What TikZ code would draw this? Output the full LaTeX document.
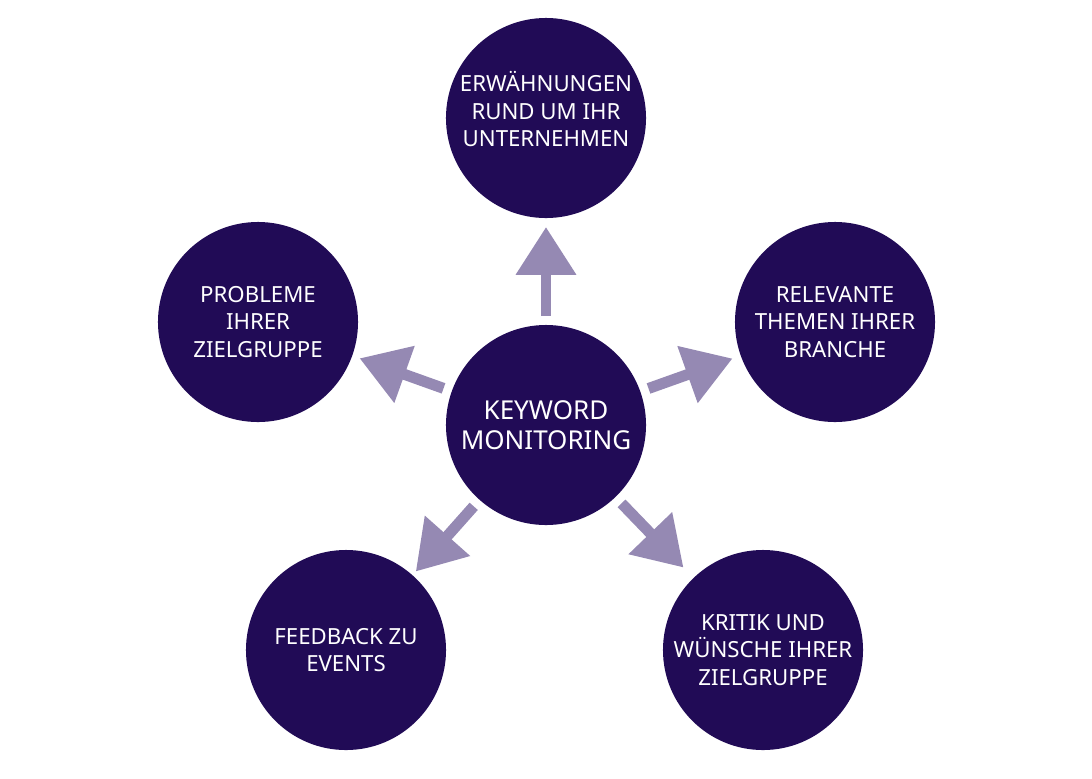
\documentclass[tikz,border=0pt]{standalone}
\usepackage{fontspec}
\setmainfont{Noto Sans}
\usetikzlibrary{arrows.meta, calc}
\definecolor{deeppurple}{RGB}{33,11,86}
\definecolor{palepurple}{RGB}{149,137,179}
\tikzstyle{bubble} = [circle, 
minimum size=5cm, 
inner sep=0pt,
fill=deeppurple, 
text=white, 
align=center,
font=\fontsize{15.8}{19.5}\selectfont]
\tikzstyle{hub} = [bubble, 
font=\fontsize{18.5}{21.5}\selectfont]
\tikzstyle{arrow} = [palepurple, line width=7.8pt, -{Triangle[length=34pt, width=41pt]}]

\begin{document}
\begin{tikzpicture}[x=0.025cm, y=-0.025cm]

\useasboundingbox (0,0) rectangle (1092,778);

\node (key) [hub] at (546,425) {KEYWORD\\MONITORING};

\node (mentions) [bubble, text depth=0.45cm] at (546,118) {ERWÄHNUNGEN\\RUND UM IHR\\UNTERNEHMEN};

\node (topics) [bubble] at (835,322) {RELEVANTE\\THEMEN IHRER\\BRANCHE};

\node (problems) [bubble] at (258,322) {PROBLEME\\IHRER\\ZIELGRUPPE};

\node (feedback) [bubble] at (346,650) {FEEDBACK ZU\\EVENTS};

\node (critique) [bubble] at (763,650) {KRITIK UND\\WÜNSCHE IHRER\\ZIELGRUPPE};


\draw [arrow] ($(key.center)!2.72cm!(mentions.center)$) -- ($(key.center)!4.95cm!(mentions.center)$);

\draw [arrow] ($(key.center)!2.72cm!(topics.center)$) -- ($(key.center)!4.95cm!(topics.center)$);

\draw [arrow] ($(key.center)!2.72cm!(problems.center)$) -- ($(key.center)!4.95cm!(problems.center)$);

\draw [arrow] ($(key.center)!2.72cm!(feedback.center)$) -- ($(key.center)!4.9cm!(feedback.center)$);

\draw [arrow] ($(key.center)!2.72cm!(critique.center)$) -- ($(key.center)!4.95cm!(critique.center)$);

\end{tikzpicture}
\end{document}
